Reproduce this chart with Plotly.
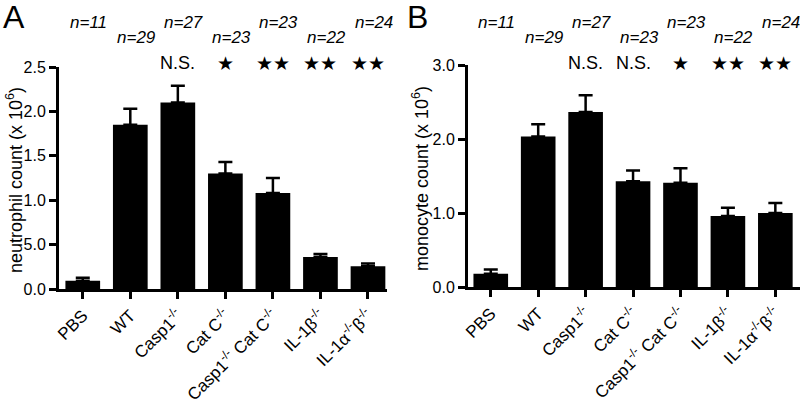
import plotly.graph_objects as go

categories = ["PBS", "WT", "Casp1<sup>-/-</sup>", "Cat C<sup>-/-</sup>",
              "Casp1<sup>-/-</sup> Cat C<sup>-/-</sup>", "IL-1β<sup>-/-</sup>",
              "IL-1α<sup>-/-</sup>β<sup>-/-</sup>"]
n_labels = ["n=11", "n=29", "n=27", "n=23", "n=23", "n=22", "n=24"]

neut_mean = [0.094, 1.85, 2.10, 1.30, 1.08, 0.36, 0.256]
neut_sem = [0.033, 0.18, 0.19, 0.13, 0.17, 0.035, 0.03]
neut_sig = ["", "", "N.S.", "★", "★★", "★★", "★★"]
neut_tickvals = [0, 0.5, 1.0, 1.5, 2.0, 2.5]
neut_ticktext = ["0.0", "5.0", "1.0", "1.5", "2.0", "2.5"]

mono_mean = [0.18, 2.035, 2.365, 1.43, 1.41, 0.96, 1.0]
mono_sem = [0.055, 0.165, 0.225, 0.145, 0.195, 0.11, 0.135]
mono_sig = ["", "", "N.S.", "N.S.", "★", "★★", "★★"]
mono_tickvals = [0, 1, 2, 3]
mono_ticktext = ["0.0", "1.0", "2.0", "3.0"]

W, H = 800, 404
FONT = "Liberation Sans, Arial, Helvetica, sans-serif"
xs = list(range(len(categories)))

fig = go.Figure()
for means, sems, xa, ya in [(neut_mean, neut_sem, "x", "y"), (mono_mean, mono_sem, "x2", "y2")]:
    fig.add_trace(go.Bar(
        x=xs, y=means, xaxis=xa, yaxis=ya, width=0.73,
        marker=dict(color="black", line=dict(width=0)),
        error_y=dict(type="data", array=sems, arrayminus=[0] * len(sems), symmetric=False,
                     color="black", thickness=2.5, width=7),
        showlegend=False,
    ))

axis_common = dict(showline=True, linecolor="black", linewidth=3, ticks="outside",
                   tickcolor="black", tickwidth=3, ticklen=7, showgrid=False, zeroline=False,
                   automargin=False)
yfont = dict(family=FONT, size=16, color="black")
xfont = dict(family=FONT, size=17, color="black")

fig.update_layout(
    width=W, height=H, margin=dict(l=0, r=0, t=0, b=0, autoexpand=False),
    paper_bgcolor="white", plot_bgcolor="white", bargap=0.27,
    xaxis=dict(domain=[59 / W, 387 / W], range=[-0.5, 6.4], anchor="y",
               tickvals=xs, ticktext=categories, tickangle=-45, tickfont=xfont, **axis_common),
    yaxis=dict(domain=[1 - 289 / H, 1 - 67 / H], range=[0, 2.5], anchor="x",
               tickvals=neut_tickvals, ticktext=neut_ticktext, tickfont=yfont, **axis_common),
    xaxis2=dict(domain=[468 / W, 1.0], range=[-0.48, 6.52], anchor="y2",
                tickvals=xs, ticktext=categories, tickangle=-45, tickfont=xfont, **axis_common),
    yaxis2=dict(domain=[1 - 287 / H, 1 - 65 / H], range=[0, 3.0], anchor="x2",
                tickvals=mono_tickvals, ticktext=mono_ticktext, tickfont=yfont, **axis_common),
)

ann = []
# panel letters
ann.append(dict(text="A", x=1 / W, y=1 - 17 / H, xref="paper", yref="paper", xanchor="left",
                yanchor="middle", showarrow=False, font=dict(family=FONT, size=32, color="black")))
ann.append(dict(text="B", x=405 / W, y=1 - 17 / H, xref="paper", yref="paper", xanchor="left",
                yanchor="middle", showarrow=False, font=dict(family=FONT, size=32, color="black")))
# y titles
ann.append(dict(text="neutrophil count (x 10<sup>6</sup>)", x=15 / W, y=1 - 180 / H, xref="paper",
                yref="paper", textangle=-90, showarrow=False, xanchor="center", yanchor="middle",
                font=dict(family=FONT, size=18, color="black")))
ann.append(dict(text="monocyte count (x 10<sup>6</sup>)", x=421 / W, y=1 - 179 / H, xref="paper",
                yref="paper", textangle=-90, showarrow=False, xanchor="center", yanchor="middle",
                font=dict(family=FONT, size=18, color="black")))
# n labels & significance
for xa, sig in [("x", neut_sig), ("x2", mono_sig)]:
    for i, (nl, s) in enumerate(zip(n_labels, sig)):
        ypix = 22 if i % 2 == 0 else 38
        ann.append(dict(text="<i>" + nl + "</i>", x=i, y=1 - ypix / H, xref=xa, yref="paper",
                        xshift=6, showarrow=False, xanchor="center", yanchor="middle",
                        font=dict(family=FONT, size=17, color="black")))
        if s:
            if s.startswith("★"):
                f = dict(family="DejaVu Sans, sans-serif", size=19, color="black")
            else:
                f = dict(family=FONT, size=18, color="black")
            ann.append(dict(text=s, x=i, y=1 - 63 / H, xref=xa, yref="paper",
                            showarrow=False, xanchor="center", yanchor="middle", font=f))
fig.update_layout(annotations=ann)

fig.write_html("out.html", config={"displayModeBar": False},
               post_script="document.body.style.margin='0';document.body.style.overflow='hidden';")
